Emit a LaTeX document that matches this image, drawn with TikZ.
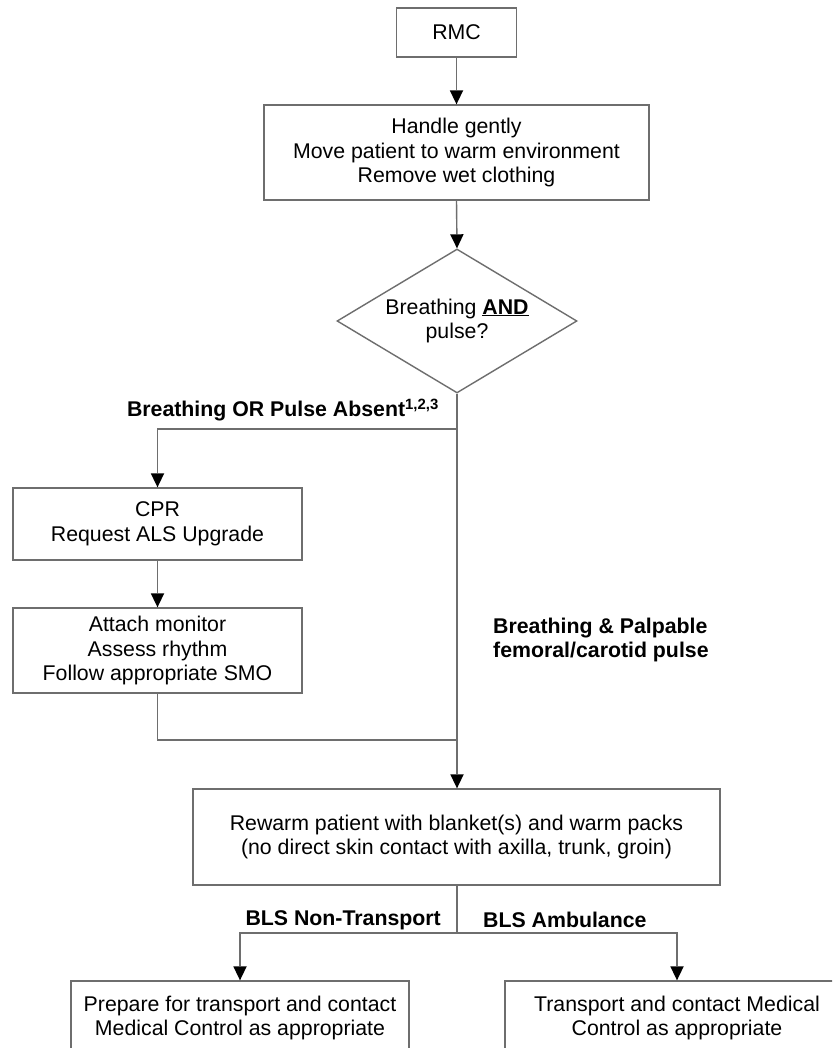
\documentclass[tikz,border=0pt]{standalone}
\usepackage{fontspec}
\setmainfont{Liberation Sans}
\usetikzlibrary{arrows.meta,shapes.geometric}
\definecolor{ln}{RGB}{110,110,110}
\newcommand\fsz{\fontsize{21.3}{24.8}\selectfont}
\tikzset{
  box/.style={draw=ln, line width=1.4pt, align=center, inner sep=0pt, font=\fsz},
  conn/.style={draw=ln, line width=1.4pt, -{Triangle[width=13.5pt,length=14pt,color=black,fill=black,line width=0pt]}},
  plainline/.style={draw=ln, line width=1.4pt},
  lbl/.style={font=\fsz\bfseries, inner sep=0pt},
}
\begin{document}
\begin{tikzpicture}[x=1pt,y=-1pt]
\clip (0,0) rectangle (832,1048);
\fill[white] (0,0) rectangle (832,1048);

\node[box, minimum width=120pt, minimum height=49pt] (rmc) at (456.5,32.5) {RMC};
\node[box, minimum width=385pt, minimum height=95pt] (handle) at (456.5,152.5)
  {Handle gently\\Move patient to warm environment\\Remove wet clothing};
\node[box, shape=diamond, aspect=1.667, minimum width=240pt, minimum height=144pt] (dia) at (457,321)
  {Breathing \underline{\textbf{AND}}\\pulse?};
\node[box, minimum width=289pt, minimum height=72pt] (cpr) at (157.5,524)
  {CPR\\Request ALS Upgrade};
\node[box, minimum width=289pt, minimum height=85pt] (att) at (157.5,650.5)
  {Attach monitor\\Assess rhythm\\Follow appropriate SMO};
\node[box, minimum width=527pt, minimum height=96pt] (rew) at (456.5,837)
  {Rewarm patient with blanket(s) and warm packs\\(no direct skin contact with axilla, trunk, groin)};
\node[box, minimum width=338pt, minimum height=74pt] (left) at (240,1018)
  {Prepare for transport and contact\\Medical Control as appropriate};
\node[box, minimum width=344pt, minimum height=74pt] (right) at (677,1018)
  {Transport and contact Medical\\Control as appropriate};

\node[lbl, anchor=east] (lab1) at (439,410) {Breathing OR Pulse Absent\textsuperscript{1,2,3}};
\node[lbl, anchor=west, align=left] (lab2) at (493,640) {Breathing \& Palpable\\femoral/carotid pulse};
\node[lbl, anchor=east] (lab3) at (441,920) {BLS Non-Transport};
\node[lbl, anchor=west] (lab4) at (483,920) {BLS Ambulance};

\coordinate (b1) at (457,429);
\coordinate (j1) at (457,740);
\coordinate (s1) at (457,933);

\draw[conn] (rmc.south) -- (handle.north);
\draw[conn] (handle.south) -- (dia.north);
\draw[conn] (dia.south) -- (dia.south |- rew.north);
\draw[conn] (b1) -| (cpr.north);
\draw[conn] (cpr.south) -- (att.north);
\draw[plainline] (att.south) |- (j1);
\draw[plainline] (s1 |- rew.south) -- (s1);
\draw[conn] (s1) -| (left.north);
\draw[conn] (s1) -| (right.north);
\end{tikzpicture}
\end{document}
